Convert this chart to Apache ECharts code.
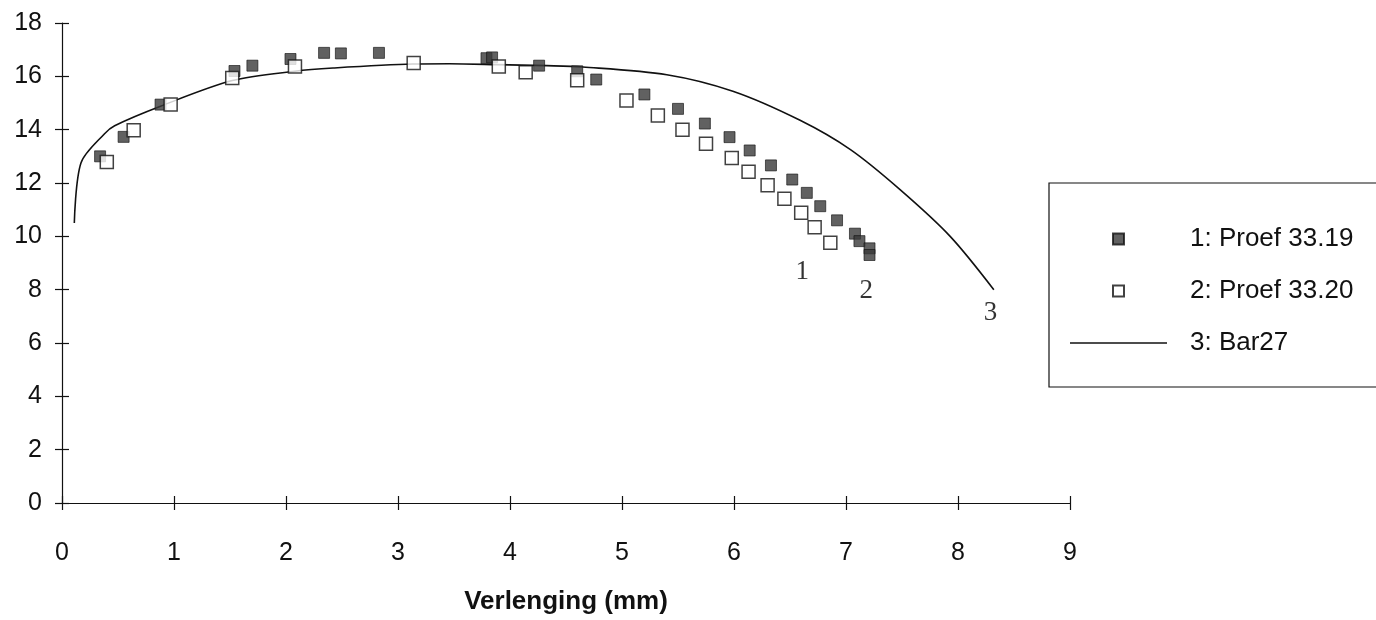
<!DOCTYPE html>
<html>
<head>
<meta charset="utf-8">
<title>Verlenging</title>
<script src="https://cdn.jsdelivr.net/npm/echarts@6/dist/echarts.min.js"></script>
<style>
  html, body { margin: 0; padding: 0; background: #fff; }
  #chart { width: 1376px; height: 620px; }
</style>
</head>
<body>
<div id="chart"></div>
<script>
// values: [verlenging (mm), kracht]
const proef3319 = [
  [0.34, 13.0], [0.55, 13.73], [0.88, 14.94], [1.54, 16.2], [1.70, 16.4],
  [2.04, 16.65], [2.34, 16.88], [2.49, 16.86], [2.83, 16.88], [3.79, 16.68],
  [3.84, 16.71], [4.26, 16.4], [4.60, 16.19], [4.77, 15.88], [5.20, 15.32],
  [5.50, 14.78], [5.74, 14.23], [5.96, 13.72], [6.14, 13.22], [6.33, 12.66],
  [6.52, 12.13], [6.65, 11.63], [6.77, 11.13], [6.92, 10.6], [7.08, 10.1],
  [7.12, 9.82], [7.21, 9.55], [7.21, 9.3],
];

const proef3320 = [
  [0.40, 12.79], [0.64, 13.98], [0.97, 14.94], [1.52, 15.94], [2.08, 16.37],
  [3.14, 16.5], [3.90, 16.37], [4.14, 16.15], [4.60, 15.85], [5.04, 15.09],
  [5.32, 14.53], [5.54, 14.0], [5.75, 13.47], [5.98, 12.94], [6.13, 12.42],
  [6.30, 11.92], [6.45, 11.41], [6.60, 10.88], [6.72, 10.34], [6.86, 9.76],
];

const bar27 = [
  [0.11, 10.5], [0.17, 12.76], [0.38, 13.85], [0.47, 14.15], [0.88, 14.88],
  [1.52, 15.84], [2.08, 16.19], [2.42, 16.31], [3.13, 16.46], [3.46, 16.47],
  [3.88, 16.44], [4.33, 16.4], [4.65, 16.35], [5.40, 16.06], [5.99, 15.44],
  [6.59, 14.35], [7.04, 13.25], [7.48, 11.76], [7.93, 10.0], [8.32, 8.0],
];

// curve numbers written next to the curve ends
const tagNames = ["1", "2", "3"];
const tagX = [6.61, 7.18, 8.29];
const tagY = [8.65, 7.95, 7.14];

const seriesNames = ["1: Proef 33.19", "2: Proef 33.20", "3: Bar27"];

const ink = "#111";
const sans = "'Liberation Sans', Arial, sans-serif";

const chart = echarts.init(document.getElementById("chart"));

const gridBox = { left: 62, right: 306, top: 23, bottom: 117 };

chart.setOption({
  animation: false,
  backgroundColor: "#fff",
  grid: [gridBox, gridBox],
  xAxis: [
    {
      type: "value",
      min: 0,
      max: 9,
      interval: 1,
      splitLine: { show: false },
      axisLine: { lineStyle: { color: ink, width: 1.2 } },
      axisTick: { length: 7, lineStyle: { color: ink, width: 1.2 } },
      axisLabel: { color: ink, fontFamily: sans, fontSize: 25, margin: 38 },
      name: "Verlenging (mm)",
      nameLocation: "middle",
      nameGap: 86,
      nameTextStyle: { color: ink, fontFamily: sans, fontWeight: "bold", fontSize: 26 },
    },
    {
      gridIndex: 1,
      type: "value",
      min: 0,
      max: 9,
      interval: 1,
      splitLine: { show: false },
      axisLine: { show: false },
      axisTick: { inside: true, length: 7, lineStyle: { color: ink, width: 1.2 } },
      axisLabel: { show: false },
    },
  ],
  yAxis: [
    {
      type: "value",
      min: 0,
      max: 18,
      interval: 2,
      splitLine: { show: false },
      axisLine: { lineStyle: { color: ink, width: 1.2 } },
      axisTick: { length: 7, lineStyle: { color: ink, width: 1.2 } },
      axisLabel: { color: ink, fontFamily: sans, fontSize: 25, margin: 20 },
    },
    {
      gridIndex: 1,
      type: "value",
      min: 0,
      max: 18,
      interval: 2,
      splitLine: { show: false },
      axisLine: { show: false },
      axisTick: { inside: true, length: 7, lineStyle: { color: ink, width: 1.2 } },
      axisLabel: { show: false },
    },
  ],
  legend: {
    orient: "vertical",
    left: 1049,
    top: 183,
    padding: [43, 60, 31, 21],
    itemWidth: 97,
    itemHeight: 11,
    itemGap: 26,
    borderColor: ink,
    borderWidth: 1.2,
    selectedMode: false,
    textStyle: { color: ink, fontFamily: sans, fontSize: 26, padding: [0, 0, 0, 18] },
    data: [
      { name: seriesNames[0], icon: "path://M0,0H10V10H0Z" },
      { name: seriesNames[1], icon: "path://M0,0H10V10H0Z" },
      { name: seriesNames[2], icon: "path://M0,0H97V1.3H0Z" },
    ],
  },
  series: [
    {
      name: seriesNames[2],
      type: "line",
      data: bar27,
      smooth: 0.3,
      showSymbol: false,
      symbol: "none",
      color: ink,
      lineStyle: { color: ink, width: 1.6 },
      z: 1,
    },
    {
      name: seriesNames[0],
      type: "scatter",
      data: proef3319,
      symbol: "rect",
      symbolSize: 11,
      itemStyle: { color: "#3a3a3a", borderColor: ink, borderWidth: 0.8 },
      z: 2,
    },
    {
      name: seriesNames[1],
      type: "scatter",
      data: proef3320,
      symbol: "rect",
      symbolSize: 13,
      itemStyle: { color: "#fff", borderColor: ink, borderWidth: 1.5 },
      z: 3,
    },
    {
      name: "tags",
      type: "scatter",
      silent: true,
      data: tagNames.map((n, i) => ({ name: n, value: [tagX[i], tagY[i]] })),
      symbolSize: 1,
      itemStyle: { color: "rgba(0,0,0,0)" },
      label: {
        show: true,
        position: "inside",
        formatter: "{b}",
        color: "#000",
        fontFamily: "'Liberation Serif', 'Times New Roman', serif",
        fontSize: 27,
      },
      z: 4,
    },
  ],
});
</script>
</body>
</html>
